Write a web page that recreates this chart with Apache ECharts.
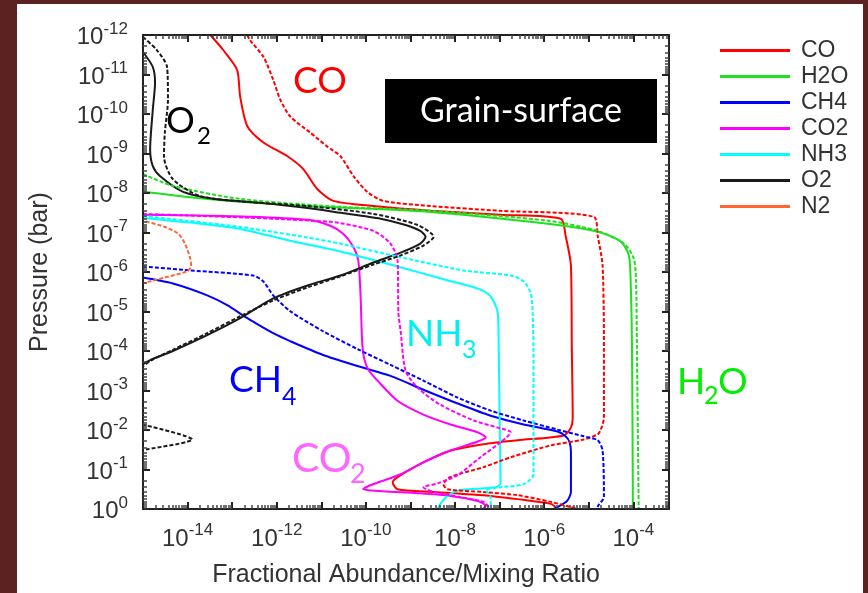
<!DOCTYPE html>
<html><head><meta charset="utf-8">
<script src="https://cdn.jsdelivr.net/npm/echarts@6/dist/echarts.min.js"></script>
<style>
html,body{margin:0;padding:0;background:#5c2121;width:868px;height:593px;overflow:hidden}
#panel{position:absolute;left:17px;top:4px;width:846px;height:589px;background:#fff}
#chart{position:absolute;left:0;top:0;width:868px;height:593px}
</style></head><body>
<div id="panel"></div><div id="chart"></div>
<script>
// Every point is [log10(fractional abundance), log10(pressure in bar)].
const species = ['CO','H2O','CH4','CO2','NH3','O2','N2'];
const xTickExponents = [-14,-12,-10,-8,-6,-4];
const yTickExponents = [-12,-11,-10,-9,-8,-7,-6,-5,-4,-3,-2,-1,0];

const coSolid = [[-13.49,-12.00],[-13.20,-11.62],[-12.89,-11.12],[-12.82,-10.44],[-12.66,-9.69],[-12.30,-9.28],[-11.76,-8.93],[-11.40,-8.60],[-11.09,-8.10],[-10.73,-7.80],[-9.83,-7.67],[-8.55,-7.55],[-6.98,-7.45],[-5.63,-7.35],[-5.52,-6.92],[-5.40,-6.16],[-5.38,-4.08],[-5.36,-2.31],[-5.40,-2.06],[-5.56,-1.86],[-6.60,-1.74],[-7.36,-1.64],[-8.10,-1.48],[-8.62,-1.23],[-9.22,-0.86],[-9.40,-0.68],[-9.29,-0.50],[-8.48,-0.43],[-7.36,-0.35],[-6.60,-0.25],[-5.85,-0.13],[-5.70,0.00]];
const coDashed = [[-12.66,-12.00],[-12.60,-11.87],[-12.30,-11.45],[-12.08,-10.87],[-11.92,-10.36],[-11.70,-9.94],[-11.25,-9.53],[-10.87,-9.18],[-10.57,-8.93],[-10.28,-8.43],[-9.97,-8.03],[-9.61,-7.80],[-8.55,-7.67],[-6.98,-7.55],[-4.89,-7.40],[-4.80,-6.92],[-4.69,-6.16],[-4.66,-4.08],[-4.66,-2.31],[-4.73,-2.01],[-4.80,-1.89],[-5.11,-1.76],[-5.85,-1.61],[-6.75,-1.31],[-7.36,-1.06],[-8.10,-0.81],[-8.26,-0.63],[-8.17,-0.50],[-7.36,-0.43],[-6.60,-0.35],[-5.85,-0.18],[-5.40,-0.05],[-5.22,0.00]];
const h2oSolid = [[-15.00,-8.03],[-13.56,-7.85],[-11.31,-7.67],[-8.55,-7.52],[-5.92,-7.22],[-4.80,-7.02],[-4.28,-6.77],[-4.10,-6.42],[-4.06,-5.76],[-4.03,-4.08],[-4.01,0.00]];
const h2oDashed = [[-15.00,-8.48],[-14.33,-8.18],[-12.82,-7.85],[-10.57,-7.65],[-8.55,-7.55],[-5.92,-7.30],[-4.80,-7.04],[-4.21,-6.72],[-3.99,-6.34],[-3.94,-5.76],[-3.92,-4.08],[-3.88,0.00]];
const ch4Solid = [[-15.00,-5.86],[-14.33,-5.71],[-13.56,-5.41],[-13.11,-5.16],[-12.66,-4.83],[-12.08,-4.45],[-11.70,-4.25],[-10.96,-3.90],[-10.19,-3.62],[-9.45,-3.37],[-8.71,-3.02],[-7.94,-2.67],[-7.20,-2.36],[-6.46,-2.14],[-5.70,-1.96],[-5.52,-1.84],[-5.43,-1.69],[-5.40,-1.43],[-5.40,-0.43],[-5.49,-0.20],[-5.70,-0.05],[-5.79,0.00]];
const ch4Dashed = [[-15.00,-6.14],[-13.94,-6.04],[-12.53,-5.91],[-12.30,-5.76],[-12.08,-5.41],[-11.70,-5.01],[-10.96,-4.50],[-10.19,-4.05],[-9.45,-3.65],[-8.71,-3.25],[-7.94,-2.82],[-7.20,-2.49],[-6.46,-2.24],[-5.70,-2.01],[-5.11,-1.84],[-4.80,-1.74],[-4.69,-1.48],[-4.66,-0.30],[-4.78,-0.10],[-4.82,0.00]];
const co2Solid = [[-15.00,-7.45],[-12.60,-7.40],[-11.31,-7.32],[-10.80,-7.17],[-10.51,-6.97],[-10.30,-6.67],[-10.17,-6.29],[-10.12,-5.41],[-10.08,-4.15],[-10.03,-3.77],[-9.94,-3.52],[-9.74,-3.25],[-9.29,-2.74],[-8.71,-2.39],[-8.10,-2.14],[-7.49,-1.94],[-7.31,-1.81],[-7.49,-1.71],[-8.10,-1.48],[-8.71,-1.18],[-9.22,-0.88],[-9.90,-0.60],[-10.06,-0.50],[-9.61,-0.45],[-8.84,-0.40],[-8.10,-0.33],[-7.49,-0.20],[-7.31,-0.08],[-7.38,0.00]];
const co2Dashed = [[-15.00,-7.47],[-10.80,-7.27],[-9.83,-7.04],[-9.45,-6.72],[-9.29,-6.29],[-9.27,-4.96],[-9.22,-4.50],[-9.11,-3.50],[-8.84,-3.07],[-8.33,-2.64],[-7.58,-2.24],[-7.04,-2.06],[-6.75,-1.94],[-6.98,-1.69],[-7.43,-1.31],[-7.94,-0.86],[-8.39,-0.65],[-8.71,-0.55],[-8.48,-0.43],[-7.88,-0.30],[-7.36,-0.18],[-7.20,0.00]];
const nh3Solid = [[-15.00,-7.37],[-13.94,-7.25],[-12.82,-7.09],[-11.70,-6.79],[-10.57,-6.52],[-9.29,-6.14],[-8.17,-5.79],[-7.49,-5.58],[-7.20,-5.38],[-7.04,-4.96],[-7.02,-4.08],[-7.00,-2.31],[-6.98,-0.65],[-7.09,-0.55],[-7.88,-0.48],[-8.15,-0.35],[-8.33,-0.13],[-8.39,0.00]];
const nh3Dashed = [[-15.00,-7.42],[-12.82,-7.14],[-10.80,-6.77],[-9.29,-6.39],[-7.81,-6.04],[-6.75,-5.91],[-6.46,-5.76],[-6.30,-5.46],[-6.26,-4.96],[-6.24,-4.08],[-6.24,-0.88],[-6.46,-0.63],[-6.98,-0.55],[-7.31,-0.48],[-7.20,-0.30],[-7.20,0.00]];
const o2Solid = [[-15.00,-11.57],[-14.78,-11.19],[-14.73,-10.79],[-14.78,-10.11],[-14.84,-9.11],[-14.78,-8.68],[-14.62,-8.43],[-14.10,-8.03],[-13.38,-7.85],[-12.37,-7.75],[-11.31,-7.62],[-10.57,-7.50],[-9.67,-7.35],[-9.11,-7.19],[-8.78,-7.04],[-8.66,-6.89],[-8.78,-6.72],[-9.22,-6.49],[-9.83,-6.24],[-10.57,-5.91],[-11.31,-5.66],[-12.08,-5.33],[-12.82,-4.83],[-13.56,-4.40],[-14.33,-4.00],[-14.84,-3.77],[-15.00,-3.67],[-15.29,-3.57]];
const o2Dashed = [[-15.00,-11.95],[-14.69,-11.62],[-14.46,-11.19],[-14.44,-10.36],[-14.51,-9.53],[-14.53,-8.93],[-14.33,-8.35],[-13.72,-7.92],[-12.60,-7.77],[-11.31,-7.67],[-9.83,-7.47],[-8.84,-7.19],[-8.48,-6.89],[-8.71,-6.67],[-9.22,-6.42],[-9.83,-6.19],[-10.57,-5.89],[-11.31,-5.61],[-12.08,-5.28],[-12.82,-4.88],[-13.56,-4.45],[-14.33,-4.03],[-14.84,-3.75],[-15.00,-3.62],[-15.29,-3.52]];
const o2DashedSpike = [[-15.29,-2.16],[-14.91,-2.11],[-13.90,-1.76],[-14.91,-1.51],[-15.29,-1.46]];
const n2Solid = [];
const n2Dashed = [[-15.07,-7.30],[-14.91,-7.27],[-14.51,-7.14],[-14.21,-6.97],[-14.06,-6.72],[-13.94,-6.34],[-13.92,-6.14],[-14.03,-6.01],[-14.51,-5.86],[-14.91,-5.74],[-15.18,-5.64]];

const colors = {CO:'#ff0000', H2O:'#1ee01e', CH4:'#0000ff', CO2:'#ff00ff', NH3:'#00ffff', O2:'#1a1a1a', N2:'#ff6633'};

const toValues = arr => arr.map(p => [Math.pow(10, p[0]), Math.pow(10, p[1])]);
function line(name, color, pts, dashed) {
  return {
    name: name, type: 'line', data: toValues(pts), showSymbol: false, symbol: 'none',
    smooth: 0.25, clip: true, silent: true,
    lineStyle: {color: color, width: 2, type: dashed ? [4, 2] : 'solid'},
    itemStyle: {color: color}
  };
}
const series = [
  line('CO', colors.CO, coSolid), line('H2O', colors.H2O, h2oSolid), line('CH4', colors.CH4, ch4Solid),
  line('CO2', colors.CO2, co2Solid), line('NH3', colors.NH3, nh3Solid), line('O2', colors.O2, o2Solid),
  line('N2', colors.N2, n2Solid),
  line('CO dashed', colors.CO, coDashed, true), line('H2O dashed', colors.H2O, h2oDashed, true),
  line('CH4 dashed', colors.CH4, ch4Dashed, true), line('CO2 dashed', colors.CO2, co2Dashed, true),
  line('NH3 dashed', colors.NH3, nh3Dashed, true), line('O2 dashed', colors.O2, o2Dashed, true),
  line('O2 dashed spike', colors.O2, o2DashedSpike, true), line('N2 dashed', colors.N2, n2Dashed, true)
];

const xMin = 1e-15, xMax = Math.pow(10, -3.2), yMin = 1e-12, yMax = 1;
const richLabel = {
  b: {fontSize: 24, fontFamily: 'Liberation Sans', color: '#333', padding: [5, 0, 0, 0]},
  s: {fontSize: 17, fontFamily: 'Liberation Sans', color: '#333', verticalAlign: 'top'}
};
function expLabel(allowed) {
  return function (v) {
    const l = Math.log10(v), e = Math.round(l);
    if (Math.abs(l - e) > 1e-6 || allowed.indexOf(e) < 0) return '';
    return '{b|10}{s|' + e + '}';
  };
}
const axisLine = {show: true, lineStyle: {color: '#222', width: 2}};
const tick = {show: true, inside: true, length: 7, lineStyle: {color: '#222', width: 2}};
const minor = {show: true, splitNumber: 10, length: 4, lineStyle: {color: '#444', width: 1.5}};

const chart = echarts.init(document.getElementById('chart'), null, {renderer: 'canvas'});
chart.setOption({
  animation: false,
  backgroundColor: 'transparent',
  grid: {left: 143, top: 35, right: 199, bottom: 81, containLabel: false},
  legend: {
    data: species, orient: 'vertical', left: 715, top: 34, icon: 'rect',
    itemWidth: 70, itemHeight: 3, itemGap: 3, selectedMode: false,
    textStyle: {fontSize: 23, fontFamily: 'Liberation Sans', color: '#333', padding: [0, 0, 0, 6]}
  },
  xAxis: [
    {type: 'log', min: xMin, max: xMax, interval: 1, position: 'bottom', z: 5,
     axisLine: axisLine, axisTick: tick, minorTick: minor, splitLine: {show: false}, minorSplitLine: {show: false},
     axisLabel: {formatter: expLabel(xTickExponents), rich: richLabel, margin: 13, hideOverlap: false},
     name: 'Fractional Abundance/Mixing Ratio', nameLocation: 'middle', nameGap: 54,
     nameTextStyle: {fontSize: 25, fontFamily: 'Liberation Sans', color: '#333'}},
    {type: 'log', min: xMin, max: xMax, interval: 1, position: 'top', z: 5,
     axisLine: axisLine, axisTick: tick, minorTick: minor, splitLine: {show: false}, axisLabel: {show: false}}
  ],
  yAxis: [
    {type: 'log', min: yMin, max: yMax, interval: 1, inverse: true, position: 'left', z: 5,
     axisLine: axisLine, axisTick: tick, minorTick: minor, splitLine: {show: false}, minorSplitLine: {show: false},
     axisLabel: {formatter: expLabel(yTickExponents), rich: richLabel, margin: 15, hideOverlap: false},
     name: 'Pressure (bar)', nameLocation: 'middle', nameGap: 90, nameRotate: 90,
     nameTextStyle: {fontSize: 25, fontFamily: 'Liberation Sans', color: '#333'}},
    {type: 'log', min: yMin, max: yMax, interval: 1, inverse: true, position: 'right', z: 5,
     axisLine: axisLine, axisTick: tick, minorTick: minor, splitLine: {show: false}, axisLabel: {show: false}}
  ],
  series: series,
  graphic: [
    {type: 'rect', shape: {x: 385, y: 79, width: 272, height: 64}, style: {fill: '#000'}, z: 10},
    {type: 'text', x: 521, y: 111, z: 11, style: {text: 'Grain-surface', fill: '#fff', font: '34px Lato', align: 'center', verticalAlign: 'middle'}},
    {type: 'text', x: 293, y: 81, z: 11, style: {text: 'CO', fill: '#ff0000', font: '37px Lato', align: 'left', verticalAlign: 'middle'}},
    {type: 'text', x: 166, y: 121, z: 11, style: {text: 'O', fill: '#000', font: '36px Lato', align: 'left', verticalAlign: 'middle'}},
    {type: 'text', x: 197, y: 136, z: 11, style: {text: '2', fill: '#000', font: '24px Lato', align: 'left', verticalAlign: 'middle'}},
    {type: 'text', x: 406, y: 334, z: 11, style: {text: 'NH', fill: '#00f0f0', font: '37px Lato', align: 'left', verticalAlign: 'middle'}},
    {type: 'text', x: 462, y: 350, z: 11, style: {text: '3', fill: '#00f0f0', font: '25px Lato', align: 'left', verticalAlign: 'middle'}},
    {type: 'text', x: 229, y: 380, z: 11, style: {text: 'CH', fill: '#0000ff', font: '37px Lato', align: 'left', verticalAlign: 'middle'}},
    {type: 'text', x: 282, y: 397, z: 11, style: {text: '4', fill: '#0000ff', font: '25px Lato', align: 'left', verticalAlign: 'middle'}},
    {type: 'text', x: 677, y: 382, z: 11, style: {text: 'H', fill: '#00ee00', font: '37px Lato', align: 'left', verticalAlign: 'middle'}},
    {type: 'text', x: 704, y: 396, z: 11, style: {text: '2', fill: '#00ee00', font: '25px Lato', align: 'left', verticalAlign: 'middle'}},
    {type: 'text', x: 718, y: 382, z: 11, style: {text: 'O', fill: '#00ee00', font: '37px Lato', align: 'left', verticalAlign: 'middle'}},
    {type: 'text', x: 292, y: 459, z: 11, style: {text: 'CO', fill: '#ff66ff', font: '41px Lato', align: 'left', verticalAlign: 'middle'}},
    {type: 'text', x: 350, y: 474, z: 11, style: {text: '2', fill: '#ff66ff', font: '27px Lato', align: 'left', verticalAlign: 'middle'}}
  ]
});
</script>
</body></html>
